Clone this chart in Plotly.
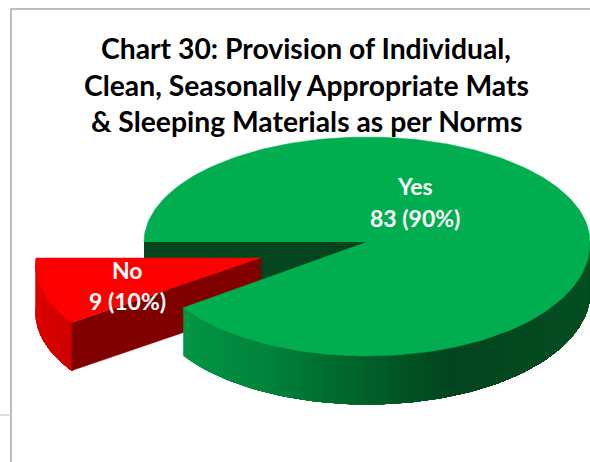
import numpy as np
import plotly.graph_objects as go

categories = ["Yes", "No"]
counts = [83, 9]
percent_labels = ["90%", "10%"]
title_lines = ["Chart 30: Provision of Individual,",
               "Clean, Seasonally Appropriate Mats",
               "&amp; Sleeping Materials as per Norms"]

W, H = 590, 462
# projection of the tilted disc onto the page (pixels)
YES_C = (367.0, 242.0)
NO_C = (261.0, 258.0)
RX_YES, RX_NO = 223.0, 225.0
RY_FRONT, RY_BACK = 114.0, 105.0
PERSP_YES, PERSP_NO = 0.015, 0.05
DEPTH = 48.0

no_span = 360.0 * counts[1] / sum(counts)


def point(c, rx, ang, persp, ry_front=RY_FRONT):
    """ang in degrees, 0 = right, positive = clockwise on the page."""
    a = np.radians(ang)
    s = np.sin(a)
    ry = np.where(s >= 0, ry_front, RY_BACK)
    widen = 1 + persp * np.clip(s, 0, None)
    return c[0] + rx * widen * np.cos(a), c[1] + ry * s


def lerp(c1, c2, t):
    return "rgb(%d,%d,%d)" % tuple(round(a + (b - a) * t) for a, b in zip(c1, c2))


fig = go.Figure()


def poly(x, y, color):
    fig.add_trace(go.Scatter(x=list(x), y=list(y), mode="lines", fill="toself",
                             fillcolor=color, line=dict(color=color, width=0.5),
                             hoverinfo="skip", showlegend=False))


def wall(px, py, colors):
    """Side wall drawn as strips, each one painted over the rest of the wall."""
    n = len(px) - 1
    for i in range(n):
        xs = np.concatenate([px[i:], px[i:][::-1]])
        ys = np.concatenate([py[i:], py[i:][::-1] + DEPTH])
        poly(xs, ys, colors[i])


# frame lines of the surrounding sheet
for xs, ys, col in (([11, 11], [9, H], "#a6a6a6"), ([11, W], [9, 9], "#a6a6a6"),
                    ([0, 11], [415, 415], "#d4d4d4")):
    fig.add_trace(go.Scatter(x=xs, y=ys, mode="lines", line=dict(color=col, width=1.5),
                             hoverinfo="skip", showlegend=False))

# back cut wall of the Yes slice
lx, ly = point(YES_C, RX_YES, 180.0, PERSP_YES)
poly([lx, YES_C[0], YES_C[0], lx], [ly, ly, ly + DEPTH, ly + DEPTH], "#03451e")

# No slice: outer wall from the left side towards the front corner
ang = np.linspace(180.0, 180.0 - no_span, 40)
ax, ay = point(NO_C, RX_NO, ang, PERSP_NO, 112.0)
wall(ax, ay, [lerp((226, 0, 0), (208, 0, 0), i / 39) for i in range(39)])
# cut wall
poly([NO_C[0], ax[-1], ax[-1], NO_C[0]],
     [NO_C[1], ay[-1], ay[-1] + DEPTH, NO_C[1] + DEPTH], "#800000")
# top
poly([NO_C[0], *ax], [NO_C[1], *ay], "#ff0000")

# Yes slice
yes_ang = np.linspace(180.0 - no_span, -180.0, 240)
gx, gy = point(YES_C, RX_YES, yes_ang, PERSP_YES)
# outer wall: only the front half is visible
side = np.linspace(180.0 - no_span, 0.0, 90)
sx, sy = point(YES_C, RX_YES, side, PERSP_YES)
stops_x = [183, 270, 340, 450, 590]
stops_c = [(0, 150, 68), (0, 130, 58), (0, 105, 45), (3, 68, 30), (4, 78, 34)]
wall_cols = []
for i in range(len(side) - 1):
    xm = (sx[i] + sx[i + 1]) / 2
    col = [np.interp(xm, stops_x, [c[k] for c in stops_c]) for k in range(3)]
    wall_cols.append("rgb(%d,%d,%d)" % tuple(round(v) for v in col))
wall(sx, sy, wall_cols)
poly([YES_C[0], *gx], [YES_C[1], *gy], "#00ae4f")

annotations = []
label_pos = {"Yes": (415, 186, 218), "No": (127, 270, 301)}
for cat, cnt, pct in zip(categories, counts, percent_labels):
    x0, y1, y2 = label_pos[cat]
    for txt, yy in ((cat, y1), (f"{cnt} ({pct})", y2)):
        annotations.append(dict(x=x0, y=yy, text=txt, showarrow=False, xanchor="center",
                                yanchor="middle",
                                font=dict(family="Lato", size=23, color="white", weight="bold")))

for txt, yy in zip(title_lines, (48, 85, 121)):
    annotations.append(dict(x=306, y=yy, text=txt, showarrow=False, xanchor="center",
                            yanchor="middle",
                            font=dict(family="Lato", size=28.3, color="black", weight="bold")))

fig.update_layout(
    width=W, height=H, margin=dict(l=0, r=0, t=0, b=0, pad=0),
    paper_bgcolor="white", plot_bgcolor="white", showlegend=False,
    xaxis=dict(range=[0, W], visible=False, fixedrange=True),
    yaxis=dict(range=[H, 0], visible=False, fixedrange=True),
    annotations=annotations,
)
fig.write_html("out.html", config={"displayModeBar": False},
               post_script="document.body.style.margin='0';document.body.style.overflow='hidden';")
